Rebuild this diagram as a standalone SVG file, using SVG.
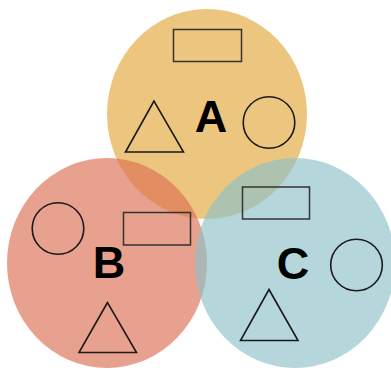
<svg xmlns="http://www.w3.org/2000/svg" width="391" height="370" viewBox="0 0 391 370">
<style>
.set{fill-opacity:0.65;stroke:none}
.shape{fill:none;stroke:#1a1a1a;stroke-width:1.6}
.rect{fill:none;stroke:#333;stroke-width:1.5}
.lbl{font-family:"Liberation Sans",Arial,sans-serif;font-weight:bold;font-size:45px;fill:#000;text-anchor:middle}
</style>
<rect width="391" height="370" fill="#fff"/>
<g id="A">
<ellipse class="set" cx="207" cy="114" rx="100" ry="105" fill="#E2A83A"/>
</g>
<g id="B">
<ellipse class="set" cx="107" cy="263" rx="100" ry="105" fill="#DD6E53"/>
</g>
<g id="C">
<ellipse class="set" cx="295" cy="263" rx="100" ry="105" fill="#8DC1C9"/>
</g>
<g id="A-items">
<rect class="rect" x="173.5" y="29.5" width="68" height="32"/>
<polygon class="shape" points="154,101 125.5,152 183.5,152"/>
<circle class="shape" cx="269" cy="122.5" r="25.8"/>
<text class="lbl" x="211" y="132">A</text>
</g>
<g id="B-items">
<circle class="shape" cx="58" cy="228.5" r="25.8"/>
<rect class="rect" x="123.5" y="212.5" width="67" height="32.5"/>
<polygon class="shape" points="107.5,302.5 79,352.5 136.5,352.5"/>
<text class="lbl" x="109" y="278">B</text>
</g>
<g id="C-items">
<rect class="rect" x="242.5" y="187" width="67" height="32"/>
<circle class="shape" cx="356.5" cy="265" r="25.8"/>
<polygon class="shape" points="269,289.5 240.5,340.5 298,340.5"/>
<text class="lbl" x="293" y="279">C</text>
</g>
<g id="connectors"/>
</svg>
